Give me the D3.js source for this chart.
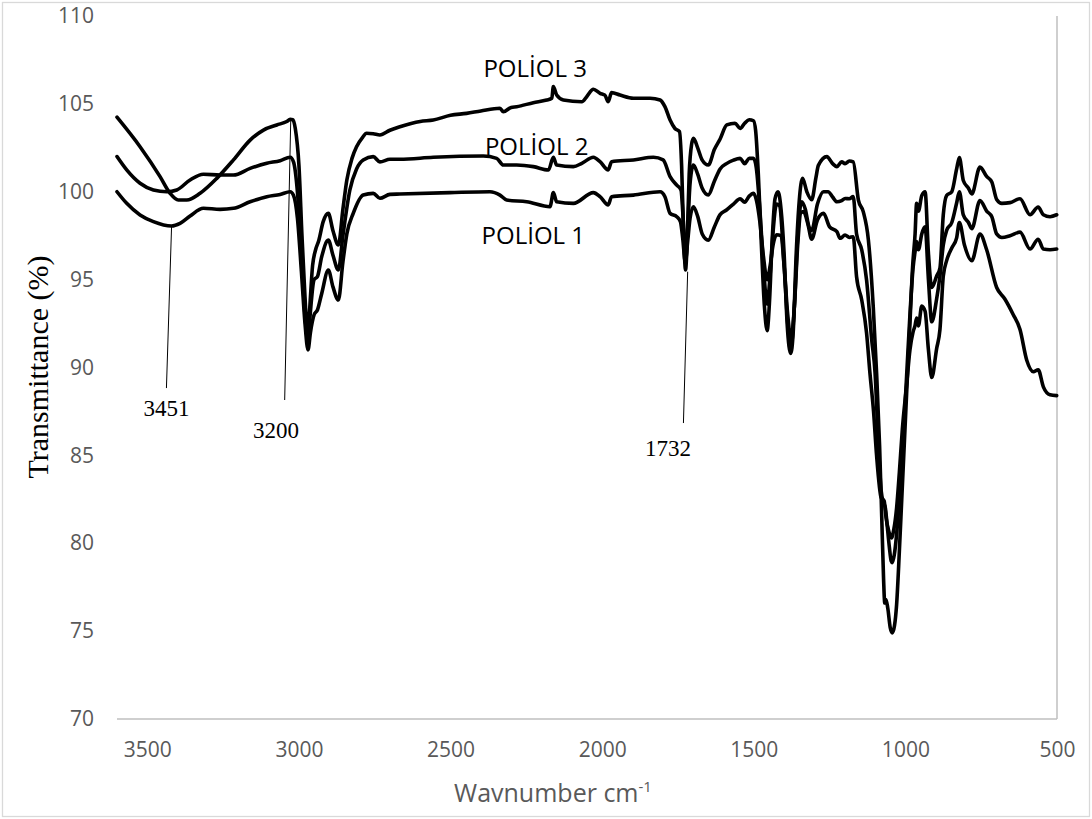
<!DOCTYPE html>
<html>
<head>
<meta charset="utf-8">
<script src="https://cdn.jsdelivr.net/npm/d3@7"></script>
<style>
  html, body { margin: 0; padding: 0; background: #fff; }
  svg { display: block; }
</style>
</head>
<body>
<svg id="chart" width="1092" height="819"></svg>
<script>
// ---------------- DATA ----------------
const xTicks = [3500, 3000, 2500, 2000, 1500, 1000, 500];
const yTicks = [70, 75, 80, 85, 90, 95, 100, 105, 110];

const poliol1 = [[3600,100.0],[3568,99.34],[3524,98.68],[3480,98.3],[3420,98.05],[3392,98.2],[3359,98.62],[3315,99.06],[3260,99.0],[3216,99.06],[3161,99.43],[3106,99.72],[3062,99.85],[3029,100.0],[3018,99.8],[3005,98.5],[2992,95.5],[2980,92.5],[2970,91.0],[2962,92.0],[2950,93.0],[2939,93.27],[2925,94.2],[2903,95.55],[2888,94.6],[2870,93.84],[2855,96.0],[2842,97.6],[2821,98.77],[2788,99.82],[2755,99.91],[2733,99.63],[2700,99.85],[2667,99.87],[2502,99.95],[2370,100.0],[2337,99.81],[2315,99.53],[2249,99.43],[2172,99.15],[2161,99.95],[2150,99.43],[2095,99.34],[2029,99.95],[2007,99.72],[1980,99.25],[1969,99.72],[1897,99.81],[1809,100.0],[1793,99.72],[1776,98.77],[1754,98.58],[1742,98.3],[1734,97.3],[1726,96.0],[1719,97.0],[1710,98.5],[1699,99.15],[1685,98.6],[1670,97.6],[1650,97.25],[1630,98.0],[1611,98.7],[1590,98.96],[1567,99.3],[1545,99.6],[1530,99.4],[1515,99.75],[1501,99.91],[1491,99.5],[1480,98.3],[1468,96.3],[1456,95.0],[1446,95.8],[1436,97.0],[1425,97.55],[1410,97.5],[1400,95.8],[1388,93.0],[1377,91.6],[1366,93.5],[1355,97.0],[1345,98.8],[1336,98.87],[1322,98.2],[1309,97.3],[1290,98.4],[1270,98.77],[1250,98.0],[1226,97.73],[1215,97.35],[1199,97.54],[1185,97.4],[1172,97.44],[1161,95.16],[1144,93.84],[1128,91.96],[1117,89.7],[1105,87.5],[1095,85.0],[1080,82.6],[1070,82.4],[1064,81.5],[1055,80.7],[1046,80.3],[1038,80.8],[1029,82.0],[1020,84.0],[1010,86.5],[996,89.0],[985,91.0],[975,92.0],[968,92.4],[963,92.82],[957,92.37],[946,93.5],[935,93.2],[924,91.0],[913,89.43],[897,91.07],[886,92.16],[875,95.2],[864,96.08],[847,96.8],[831,97.38],[822,98.25],[805,96.95],[781,96.08],[754,97.6],[732,96.7],[699,94.55],[672,93.9],[645,93.03],[622,92.16],[600,90.43],[578,89.76],[562,89.87],[545,88.9],[523,88.45],[501,88.4]];

const poliol2 = [[3600,102.0],[3568,101.24],[3524,100.48],[3480,100.1],[3436,100.0],[3403,100.1],[3359,100.67],[3315,101.0],[3260,100.95],[3216,100.95],[3161,101.33],[3106,101.62],[3062,101.77],[3029,101.96],[3018,101.7],[3005,100.0],[2992,96.5],[2980,93.0],[2970,91.5],[2963,93.0],[2950,95.0],[2939,95.17],[2925,96.3],[2903,97.25],[2888,96.4],[2870,95.55],[2855,97.5],[2832,100.1],[2810,101.3],[2788,101.81],[2755,102.0],[2733,101.7],[2700,101.85],[2667,101.85],[2557,101.96],[2392,102.03],[2348,101.9],[2326,101.52],[2282,101.52],[2227,101.43],[2177,101.24],[2161,101.96],[2150,101.52],[2095,101.43],[2067,101.62],[2029,101.96],[2007,101.71],[1980,101.24],[1969,101.71],[1897,101.81],[1831,101.96],[1799,101.81],[1776,100.86],[1754,100.38],[1740,100.1],[1733,98.5],[1725,95.9],[1719,97.5],[1710,100.5],[1699,101.52],[1685,101.0],[1670,100.2],[1650,99.82],[1630,100.6],[1611,101.3],[1590,101.6],[1567,101.8],[1545,101.9],[1530,101.6],[1515,101.9],[1501,101.9],[1492,101.4],[1480,99.0],[1468,95.8],[1456,93.6],[1446,95.3],[1436,97.8],[1425,99.3],[1415,99.2],[1400,95.8],[1388,92.5],[1377,91.2],[1366,93.5],[1355,97.5],[1342,99.43],[1330,99.0],[1318,98.0],[1309,97.8],[1290,99.3],[1270,100.0],[1255,100.0],[1240,99.7],[1226,99.43],[1210,99.5],[1199,99.62],[1185,99.6],[1172,99.72],[1161,97.6],[1144,96.69],[1128,94.98],[1111,91.56],[1100,89.7],[1090,86.0],[1080,83.0],[1072,82.3],[1066,82.0],[1060,81.0],[1053,79.8],[1047,79.0],[1043,78.9],[1037,79.3],[1029,80.5],[1020,82.5],[1012,84.5],[996,89.5],[985,93.0],[975,95.6],[968,96.6],[963,97.16],[957,96.7],[946,97.6],[935,98.0],[924,95.0],[913,92.6],[897,93.9],[886,95.2],[875,96.97],[864,97.8],[847,98.25],[831,99.36],[822,100.0],[809,98.68],[792,98.25],[781,97.9],[754,99.5],[732,98.9],[715,98.58],[699,97.6],[682,97.4],[655,97.5],[622,97.7],[589,96.74],[562,97.3],[545,96.74],[523,96.7],[501,96.74]];

const poliol3 = [[3600,104.24],[3524,102.56],[3458,100.86],[3425,99.91],[3398,99.53],[3370,99.53],[3326,99.91],[3271,100.76],[3216,101.81],[3161,102.94],[3117,103.51],[3073,103.8],[3040,104.0],[3029,104.12],[3020,104.1],[3012,103.6],[3000,101.5],[2990,97.5],[2980,94.0],[2972,92.0],[2966,93.0],[2955,95.8],[2945,96.7],[2935,97.2],[2920,98.3],[2903,98.77],[2888,97.8],[2870,96.97],[2855,99.0],[2842,100.67],[2825,101.9],[2810,102.56],[2790,103.1],[2777,103.33],[2755,103.3],[2733,103.23],[2700,103.5],[2667,103.7],[2600,104.0],[2557,104.08],[2500,104.35],[2447,104.46],[2400,104.6],[2337,104.75],[2326,104.55],[2300,104.8],[2282,104.84],[2227,105.07],[2183,105.22],[2166,105.32],[2161,105.98],[2150,105.5],[2128,105.22],[2067,105.12],[2051,105.41],[2029,105.83],[2007,105.6],[1991,105.5],[1980,105.12],[1969,105.64],[1941,105.5],[1897,105.32],[1842,105.32],[1809,105.22],[1793,104.84],[1776,104.08],[1760,103.6],[1745,103.42],[1738,101.5],[1732,98.0],[1725,95.55],[1720,97.0],[1713,101.0],[1705,102.7],[1699,103.04],[1685,102.5],[1670,101.8],[1650,101.52],[1630,102.4],[1611,103.0],[1589,103.8],[1562,103.9],[1545,103.6],[1530,103.9],[1515,104.1],[1501,104.04],[1494,103.5],[1485,101.0],[1475,97.0],[1465,93.5],[1456,92.1],[1448,93.8],[1440,97.0],[1430,99.6],[1420,100.0],[1410,99.0],[1400,96.5],[1390,92.5],[1378,90.8],[1370,92.0],[1360,96.5],[1350,99.5],[1339,100.76],[1325,100.0],[1309,99.55],[1295,100.8],[1287,101.5],[1259,102.0],[1240,101.6],[1226,101.43],[1210,101.7],[1199,101.6],[1185,101.75],[1172,101.7],[1155,99.53],[1139,98.87],[1122,97.25],[1106,93.46],[1095,89.7],[1085,85.5],[1078,81.5],[1072,78.0],[1068,76.6],[1064,76.8],[1058,76.3],[1050,75.2],[1043,74.9],[1036,75.3],[1029,76.5],[1020,79.5],[1012,82.5],[996,88.5],[985,92.5],[976,95.8],[968,97.6],[963,99.34],[957,98.9],[946,99.78],[935,100.0],[924,96.5],[913,94.55],[897,95.2],[886,95.66],[875,98.69],[864,99.78],[847,100.0],[831,101.3],[822,101.95],[809,100.64],[792,100.2],[781,99.88],[754,101.4],[732,100.87],[715,100.56],[699,99.56],[682,99.34],[655,99.38],[622,99.6],[589,98.69],[562,99.13],[545,98.69],[523,98.58],[501,98.69]];

const seriesNames = ["POLİOL 1", "POLİOL 2", "POLİOL 3"];
// label anchor in data units: [wavenumber, transmittance]
const seriesLabelAt = [[2227, 97.03], [2216, 102.1], [2221, 106.53]];

// peak annotations: label, [w,v] at curve, [w,v] line end, [w,v] label
const annotLabels = ["3451", "3200", "1732"];
const annotTop = [[3420, 98.05], [3027, 104.08], [1718, 95.45]];
const annotBottom = [[3437, 88.83], [3047, 88.15], [1732, 86.84]];
const annotText = [[3437, 87.24], [3076, 85.99], [1783, 84.96]];

// ---------------- CHART ----------------
const svg = d3.select("#chart");
const W = 1092, H = 819;
const mLeft = 117, mRight = 1057, mTop = 16, mBottom = 719;

const x = d3.scaleLinear().domain([3600, 500]).range([mLeft, mRight]);
const y = d3.scaleLinear().domain([70, 110]).range([mBottom, mTop]);

// outer chart border
svg.append("rect")
  .attr("x", 2.5).attr("y", 2.5).attr("width", W - 5).attr("height", H - 5)
  .attr("fill", "#fff").attr("stroke", "#d9d9d9").attr("stroke-width", 1.3);

// axis lines
svg.append("line").attr("x1", mLeft).attr("x2", mRight).attr("y1", mBottom).attr("y2", mBottom)
  .attr("stroke", "#bfbfbf").attr("stroke-width", 1.5);
svg.append("line").attr("x1", mRight).attr("x2", mRight).attr("y1", mTop).attr("y2", mBottom)
  .attr("stroke", "#bfbfbf").attr("stroke-width", 1.5);

// y axis labels
const yAxis = svg.append("g").attr("transform", `translate(${mLeft},0)`)
  .call(d3.axisLeft(y).tickValues(yTicks).tickSize(0).tickPadding(23));
yAxis.select(".domain").remove();
yAxis.selectAll("text").attr("font-family", "'Open Sans', sans-serif")
  .attr("font-size", 21).attr("fill", "#595959");

// x axis labels
const xAxis = svg.append("g").attr("transform", `translate(0,${mBottom})`)
  .call(d3.axisBottom(x).tickValues(xTicks).tickSize(0).tickPadding(23).tickFormat(d3.format("d")));
xAxis.select(".domain").remove();
xAxis.selectAll("text").attr("font-family", "'Open Sans', sans-serif")
  .attr("font-size", 21).attr("fill", "#595959");

// axis titles
const xt = svg.append("text")
  .attr("x", 553).attr("y", 802).attr("text-anchor", "middle")
  .attr("font-family", "'Open Sans', sans-serif").attr("font-size", 25).attr("fill", "#595959");
xt.append("tspan").text("Wavnumber cm");
xt.append("tspan").attr("dy", -10).attr("font-size", 15).text("-1");

svg.append("text")
  .attr("transform", "translate(48,367) rotate(-90)")
  .attr("text-anchor", "middle")
  .attr("font-family", "'Liberation Serif', 'Times New Roman', serif")
  .attr("font-size", 30).attr("fill", "#000")
  .text("Transmittance (%)");

// annotation leader lines & labels
annotLabels.forEach((lab, i) => {
  svg.append("line")
    .attr("x1", x(annotTop[i][0])).attr("y1", y(annotTop[i][1]))
    .attr("x2", x(annotBottom[i][0])).attr("y2", y(annotBottom[i][1]))
    .attr("stroke", "#000").attr("stroke-width", 1);
  svg.append("text")
    .attr("x", x(annotText[i][0])).attr("y", y(annotText[i][1]))
    .attr("text-anchor", "middle")
    .attr("font-family", "'Liberation Serif', 'Times New Roman', serif")
    .attr("font-size", 23).attr("fill", "#000")
    .text(lab);
});

// spectra
const line = d3.line()
  .x(d => x(d[0])).y(d => y(d[1]))
  .curve(d3.curveMonotoneX);

[poliol1, poliol2, poliol3].forEach(s => {
  svg.append("path").datum(s)
    .attr("d", line)
    .attr("fill", "none").attr("stroke", "#000")
    .attr("stroke-width", 3.6).attr("stroke-linejoin", "round").attr("stroke-linecap", "round");
});

// series labels
seriesNames.forEach((n, i) => {
  svg.append("text")
    .attr("x", x(seriesLabelAt[i][0])).attr("y", y(seriesLabelAt[i][1]))
    .attr("text-anchor", "middle")
    .attr("font-family", "'Open Sans', sans-serif")
    .attr("font-size", 24).attr("fill", "#000")
    .text(n);
});
</script>
</body>
</html>
